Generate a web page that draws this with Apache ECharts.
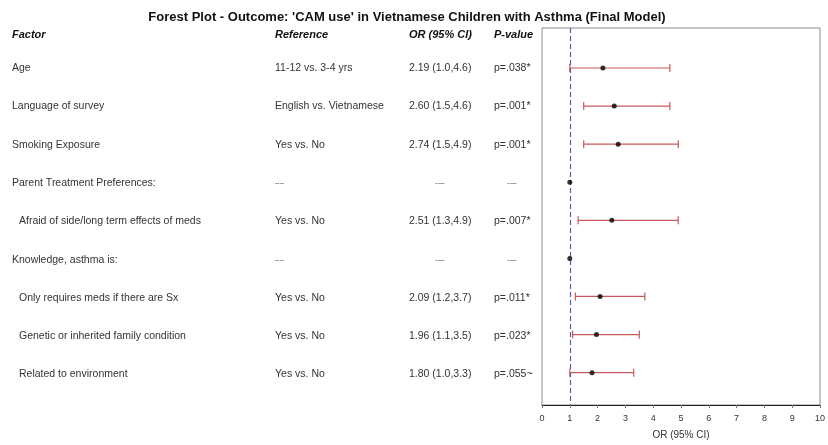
<!DOCTYPE html>
<html><head><meta charset="utf-8">
<script src="https://cdn.jsdelivr.net/npm/echarts@6/dist/echarts.min.js"></script>
<style>html,body{margin:0;padding:0;background:#fff}#c{width:828px;height:445px}</style>
</head><body><div id="c"></div>
<script>
const factors = ['Age','Language of survey','Smoking Exposure','Parent Treatment Preferences:','Afraid of side/long term effects of meds','Knowledge, asthma is:','Only requires meds if there are Sx','Genetic or inherited family condition','Related to environment'];
const indented = [0,0,0,0,1,0,1,1,1];
const references = ['11-12 vs. 3-4 yrs','English vs. Vietnamese','Yes vs. No','----','Yes vs. No','----','Yes vs. No','Yes vs. No','Yes vs. No'];
const orLabels = ['2.19 (1.0,4.6)','2.60 (1.5,4.6)','2.74 (1.5,4.9)','----','2.51 (1.3,4.9)','----','2.09 (1.2,3.7)','1.96 (1.1,3.5)','1.80 (1.0,3.3)'];
const pLabels = ['p=.038*','p=.001*','p=.001*','----','p=.007*','----','p=.011*','p=.023*','p=.055~'];
const orValues = [2.19,2.60,2.74,1,2.51,1,2.09,1.96,1.80];
const lowerCI = [1.0,1.5,1.5,null,1.3,null,1.2,1.1,1.0];
const upperCI = [4.6,4.6,4.9,null,4.9,null,3.7,3.5,3.3];
const xTicks = [0,1,2,3,4,5,6,7,8,9,10];
const headers = ['Factor','Reference','OR (95% CI)','P-value'];
const titleText = "Forest Plot - Outcome: 'CAM use' in Vietnamese Children with Asthma (Final Model)";
const refLine = 1;

const FONT = 'Liberation Sans, Arial, sans-serif';
const colX = [12, 275, 409, 494];
const dashCenter = [0, 0, 440, 512];
const yAxisCfg = (gi)=>({type:'value', gridIndex:gi, min:-1.05, max:8.85, inverse:true, show:false});

const chart = echarts.init(document.getElementById('c'));
const rows = factors.map((f,i)=>[0,i]);
chart.setOption({
  animation:false,
  grid:[
    {left:0, top:28, width:541, height:379, show:false},
    {left:542, top:28, width:279, height:379, show:true, borderColor:'#8a8a8a', borderWidth:1}
  ],
  xAxis:[
    {type:'value', gridIndex:0, min:0, max:541, show:false},
    {type:'value', gridIndex:1, min:0, max:10, interval:1, position:'bottom',
     axisLine:{show:true, onZero:false, lineStyle:{color:'#222', width:1.2}},
     axisTick:{show:true, length:3, lineStyle:{color:'#777'}},
     splitLine:{show:false},
     axisLabel:{fontFamily:FONT, fontSize:9, color:'#333', margin:9, formatter:(v)=>xTicks.includes(v)?String(v):''},
     name:'OR (95% CI)', nameLocation:'middle', nameGap:25,
     nameTextStyle:{fontFamily:FONT, fontSize:10, color:'#333'}}
  ],
  yAxis:[yAxisCfg(0), yAxisCfg(1)],
  graphic:[
    {type:'text', x:407, y:17, style:{text:titleText, fontFamily:FONT, fontSize:13, fontWeight:'bold', fill:'#111', align:'center', verticalAlign:'middle'}},
    ...headers.map((h,k)=>({type:'text', x:colX[k], y:35, style:{text:h, fontFamily:FONT, fontSize:11, fontWeight:'bold', fontStyle:'italic', fill:'#111', align:'left', verticalAlign:'middle'}}))
  ],
  series:[
    {type:'custom', xAxisIndex:0, yAxisIndex:0, data:rows, silent:true,
     renderItem:(params, api)=>{
       const i = api.value(1);
       const p = api.coord([0,i]);
       const y = p[1];
       const texts = [factors[i], references[i], orLabels[i], pLabels[i]];
       const children = texts.map((t,k)=>{
         let x = colX[k] + (k===0 && indented[i] ? 7 : 0);
         let align = 'left';
         if (t==='----' && k>=2){ x = dashCenter[k]; align='center'; }
         return {type:'text', x:x, y:y, style:{text:t, fontFamily:FONT, fontSize:t==='----'?7:10.5, fill:'#333', align:align, verticalAlign:'middle'}};
       });
       return {type:'group', children:children};
     }},
    {type:'custom', xAxisIndex:1, yAxisIndex:1, silent:true, z:3,
     data:lowerCI.map((l,i)=>[l,upperCI[i],i]).filter(d=>d[0]!=null),
     renderItem:(params, api)=>{
       const a = api.coord([api.value(0), api.value(2)]);
       const b = api.coord([api.value(1), api.value(2)]);
       const h = 4;
       const st = {stroke:'#c9585c', lineWidth:1.2};
       return {type:'group', children:[
         {type:'line', shape:{x1:a[0],y1:a[1],x2:b[0],y2:b[1]}, style:st},
         {type:'line', shape:{x1:a[0],y1:a[1]-h,x2:a[0],y2:a[1]+h}, style:st},
         {type:'line', shape:{x1:b[0],y1:b[1]-h,x2:b[0],y2:b[1]+h}, style:st}
       ]};
     }},
    {type:'scatter', xAxisIndex:1, yAxisIndex:1, z:5, silent:true,
     symbol:'circle', symbolSize:5, itemStyle:{color:'#000'},
     data:orValues.map((v,i)=>[v,i]),
     markLine:{silent:true, symbol:'none', label:{show:false},
       lineStyle:{color:'#5b5bb0', type:[5,3], width:1.2},
       data:[{xAxis:refLine}]}}
  ]
});
</script></body></html>
